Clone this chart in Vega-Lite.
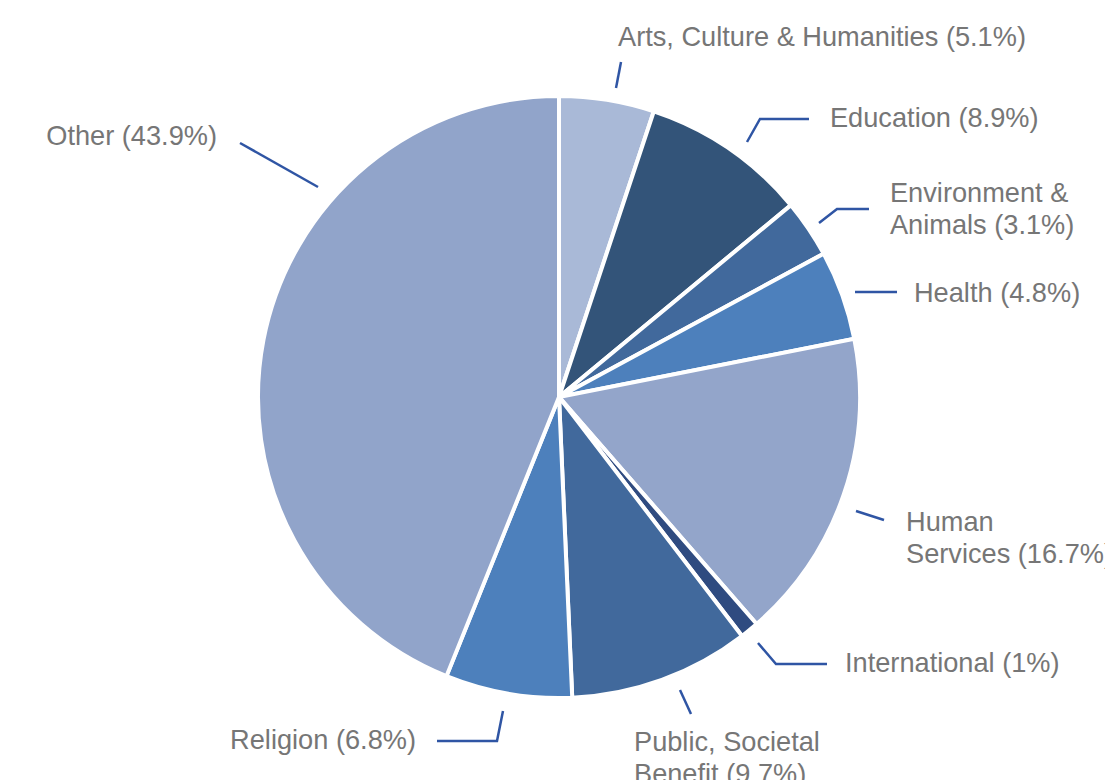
{
  "$schema": "https://vega.github.io/schema/vega-lite/v6.json",
  "autosize": {"type": "fit", "contains": "padding"},
  "width": 1105,
  "height": 780,
  "padding": {"left": 13, "top": 14, "right": 0, "bottom": 0},
  "background": "white",
  "config": {"view": {"stroke": null}},
  "datasets": {
    "slices": [
      {"category": "Arts, Culture & Humanities", "pct": 5.1, "rank": 1},
      {"category": "Education", "pct": 8.9, "rank": 2},
      {"category": "Environment & Animals", "pct": 3.1, "rank": 3},
      {"category": "Health", "pct": 4.8, "rank": 4},
      {"category": "Human Services", "pct": 16.7, "rank": 5},
      {"category": "International", "pct": 1.0, "rank": 6},
      {"category": "Public, Societal Benefit", "pct": 9.7, "rank": 7},
      {"category": "Religion", "pct": 6.8, "rank": 8},
      {"category": "Other", "pct": 43.9, "rank": 9}
    ],
    "labels": [
      {"category": "Arts, Culture & Humanities", "text": "Arts, Culture & Humanities (5.1%)", "u": 0.1967, "v": 1.1967},
      {"category": "Education", "text": "Education (8.9%)", "u": 0.9033, "v": 0.9267},
      {"category": "Environment & Animals", "text": "Environment &\nAnimals (3.1%)", "u": 1.1033, "v": 0.6767},
      {"category": "Health", "text": "Health (4.8%)", "u": 1.1833, "v": 0.3433},
      {"category": "Human Services", "text": "Human\nServices (16.7%)", "u": 1.1567, "v": -0.42},
      {"category": "International", "text": "International (1%)", "u": 0.9533, "v": -0.89},
      {"category": "Public, Societal Benefit", "text": "Public, Societal\nBenefit (9.7%)", "u": 0.25, "v": -1.1533},
      {"category": "Religion", "text": "Religion (6.8%)", "u": -0.4767, "v": -1.1467},
      {"category": "Other", "text": "Other (43.9%)", "u": -1.14, "v": 0.8667}
    ],
    "leaders": [
      {"category": "Arts, Culture & Humanities", "pt": 1, "u": 0.19, "v": 1.03},
      {"category": "Arts, Culture & Humanities", "pt": 2, "u": 0.2067, "v": 1.1167},
      {"category": "Education", "pt": 1, "u": 0.6267, "v": 0.85},
      {"category": "Education", "pt": 2, "u": 0.67, "v": 0.9267},
      {"category": "Education", "pt": 3, "u": 0.8333, "v": 0.9267},
      {"category": "Environment & Animals", "pt": 1, "u": 0.8667, "v": 0.58},
      {"category": "Environment & Animals", "pt": 2, "u": 0.9267, "v": 0.6267},
      {"category": "Environment & Animals", "pt": 3, "u": 1.0333, "v": 0.6267},
      {"category": "Health", "pt": 1, "u": 0.9867, "v": 0.35},
      {"category": "Health", "pt": 2, "u": 1.1267, "v": 0.35},
      {"category": "Human Services", "pt": 1, "u": 0.99, "v": -0.38},
      {"category": "Human Services", "pt": 2, "u": 1.0833, "v": -0.41},
      {"category": "International", "pt": 1, "u": 0.6633, "v": -0.82},
      {"category": "International", "pt": 2, "u": 0.7233, "v": -0.89},
      {"category": "International", "pt": 3, "u": 0.8933, "v": -0.89},
      {"category": "Public, Societal Benefit", "pt": 1, "u": 0.4033, "v": -0.9767},
      {"category": "Public, Societal Benefit", "pt": 2, "u": 0.44, "v": -1.0567},
      {"category": "Religion", "pt": 1, "u": -0.1867, "v": -1.0467},
      {"category": "Religion", "pt": 2, "u": -0.2067, "v": -1.1467},
      {"category": "Religion", "pt": 3, "u": -0.4067, "v": -1.1467},
      {"category": "Other", "pt": 1, "u": -0.8033, "v": 0.7},
      {"category": "Other", "pt": 2, "u": -1.0633, "v": 0.8467}
    ]
  },
  "layer": [
    {
      "data": {"name": "slices"},
      "mark": {"type": "arc", "radius": 301, "stroke": "white", "strokeWidth": 4},
      "encoding": {
        "theta": {"field": "pct", "type": "quantitative", "stack": true},
        "order": {"field": "rank", "type": "quantitative"},
        "color": {
          "field": "category",
          "type": "nominal",
          "legend": null,
          "scale": {
            "domain": ["Arts, Culture & Humanities", "Education", "Environment & Animals", "Health", "Human Services", "International", "Public, Societal Benefit", "Religion", "Other"],
            "range": ["#a9b9d7", "#335479", "#41699c", "#4d80bc", "#93a5ca", "#2f4b80", "#41699c", "#4d80bc", "#91a4ca"]
          }
        }
      }
    },
    {
      "data": {"name": "leaders"},
      "mark": {"type": "line", "color": "#2f55a4", "strokeWidth": 2.5},
      "encoding": {
        "x": {"field": "u", "type": "quantitative", "axis": null, "scale": {"domain": [-1.82, 1.82], "nice": false, "zero": false}},
        "y": {"field": "v", "type": "quantitative", "axis": null, "scale": {"domain": [-1.2767, 1.2767], "nice": false, "zero": false}},
        "detail": {"field": "category", "type": "nominal"},
        "order": {"field": "pt", "type": "quantitative"}
      }
    },
    {
      "data": {"name": "labels"},
      "transform": [{"filter": "datum.u >= 0"}],
      "mark": {"type": "text", "align": "left", "baseline": "middle", "font": "Liberation Sans", "fontSize": 27.2, "color": "#767676", "lineBreak": "\n", "lineHeight": 32, "clip": true},
      "encoding": {
        "x": {"field": "u", "type": "quantitative", "axis": null, "scale": {"domain": [-1.82, 1.82], "nice": false, "zero": false}},
        "y": {"field": "v", "type": "quantitative", "axis": null, "scale": {"domain": [-1.2767, 1.2767], "nice": false, "zero": false}},
        "text": {"field": "text", "type": "nominal"}
      }
    },
    {
      "data": {"name": "labels"},
      "transform": [{"filter": "datum.u < 0"}],
      "mark": {"type": "text", "align": "right", "baseline": "middle", "font": "Liberation Sans", "fontSize": 27.2, "color": "#767676", "lineBreak": "\n", "lineHeight": 32, "clip": true},
      "encoding": {
        "x": {"field": "u", "type": "quantitative", "axis": null, "scale": {"domain": [-1.82, 1.82], "nice": false, "zero": false}},
        "y": {"field": "v", "type": "quantitative", "axis": null, "scale": {"domain": [-1.2767, 1.2767], "nice": false, "zero": false}},
        "text": {"field": "text", "type": "nominal"}
      }
    }
  ]
}
